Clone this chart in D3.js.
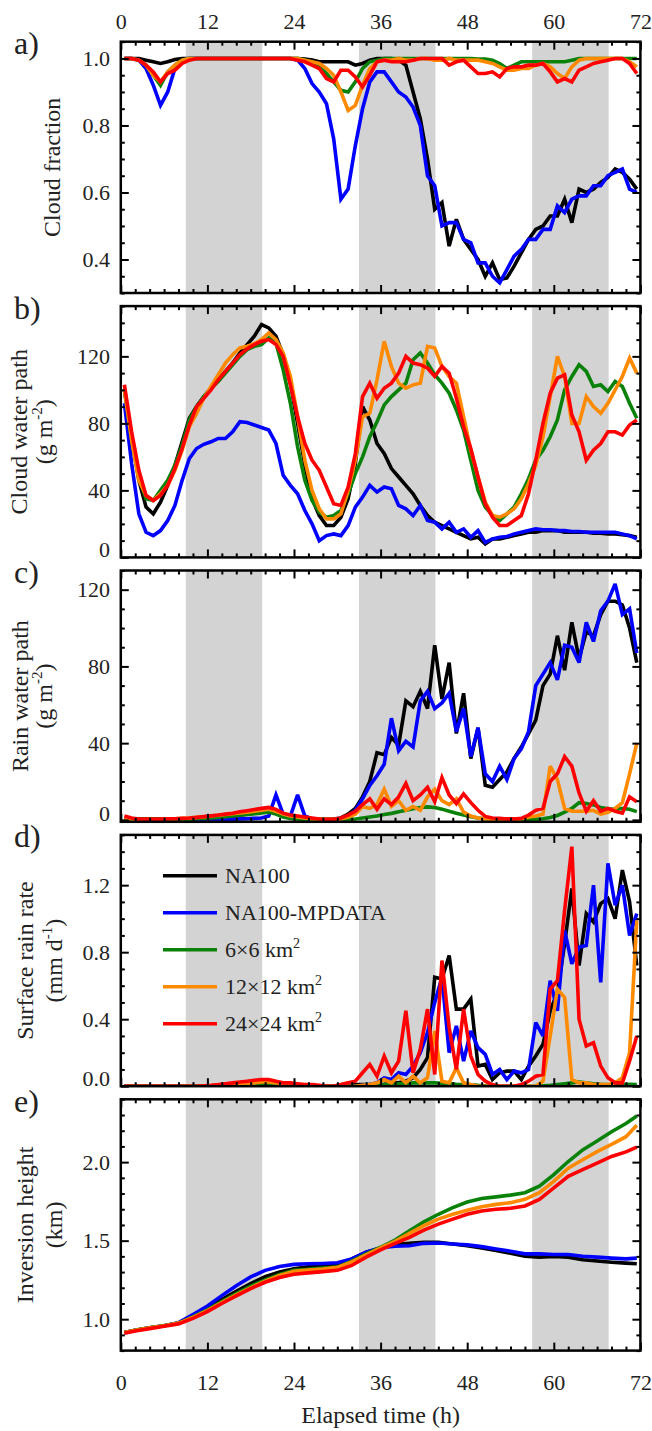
<!DOCTYPE html>
<meta charset="utf-8">
<script src="https://d3js.org/d3.v7.min.js"></script>
<style>
  body { margin: 0; background: #fff; }
  svg text, svg tspan { font-family: "Liberation Serif", "Times New Roman", serif; }
</style>
<svg id="chart" width="652" height="1431"></svg>
<script>
// sample times (h): hourly means plotted at mid-hour
const hours = [0.5,1.5,2.5,3.5,4.5,5.5,6.5,7.5,8.5,9.5,10.5,11.5,12.5,13.5,14.5,15.5,16.5,17.5,18.5,19.5,
  20.5,21.5,22.5,23.5,24.5,25.5,26.5,27.5,28.5,29.5,30.5,31.5,32.5,33.5,34.5,35.5,36.5,37.5,38.5,39.5,
  40.5,41.5,42.5,43.5,44.5,45.5,46.5,47.5,48.5,49.5,50.5,51.5,52.5,53.5,54.5,55.5,56.5,57.5,58.5,59.5,
  60.5,61.5,62.5,63.5,64.5,65.5,66.5,67.5,68.5,69.5,70.5,71.5];
// inversion height read every 2 h
const hoursE = [0.5,2,4,6,8,10,12,14,16,18,20,22,24,26,28,30,32,34,36,38,40,42,44,46,48,50,52,54,56,58,60,62,64,66,68,70,71.5];

const nightBands = [[9, 19.6], [33, 43.6], [57, 67.6]];
const xTicks = [0, 12, 24, 36, 48, 60, 72];
const seriesNames = ["NA100", "NA100-MPDATA", "6×6 km", "12×12 km", "24×24 km"];
const seriesSup = ["", "", "2", "2", "2"];
const seriesColors = ["#000000", "#0000ff", "#0a820a", "#ff8a00", "#ff0000"];

// a) cloud fraction
const cfBlack = [1.0,1.0,1.0,0.995,0.99,0.985,0.99,0.997,1.0,1.0,
  1,1,1,1,1,1,1,1,1,1,
  1,1,1,1,1,0.998,0.995,0.99,0.99,0.99,
  0.99,0.99,0.98,0.985,0.995,1.0,1.0,1.0,0.995,0.98,
  0.9,0.82,0.7,0.55,0.57,0.44,0.52,0.46,0.43,0.40,
  0.35,0.39,0.34,0.345,0.38,0.42,0.46,0.49,0.5,0.53,
  0.53,0.58,0.51,0.61,0.60,0.61,0.63,0.645,0.67,0.66,
  0.64,0.61];
const cfBlue = [1.0,1.0,0.995,0.97,0.92,0.86,0.9,0.97,0.995,1.0,
  1,1,1,1,1,1,1,1,1,1,
  1,1,1,1,0.995,0.97,0.925,0.9,0.865,0.76,
  0.58,0.61,0.74,0.85,0.93,0.96,0.96,0.93,0.9,0.885,
  0.855,0.8,0.65,0.62,0.5,0.51,0.51,0.46,0.45,0.39,
  0.39,0.35,0.33,0.37,0.41,0.43,0.46,0.46,0.49,0.49,
  0.56,0.54,0.58,0.59,0.59,0.62,0.62,0.65,0.66,0.67,
  0.61,0.60];
const cfGreen = [1.0,1.0,0.995,0.98,0.95,0.92,0.96,0.98,0.995,1.0,
  1,1,1,1,1,1,1,1,1,1,
  1,1,1,1,1,0.995,0.99,0.975,0.955,0.93,
  0.905,0.9,0.93,0.97,0.99,0.995,1,1,1,1,
  1,1,1,1,1,1,1,1,1,0.998,
  0.998,0.995,0.985,0.97,0.98,0.99,0.99,0.99,0.99,0.99,
  0.99,0.99,0.995,1,1,1,1,1,1,1,
  1,1];
const cfOrange = [1.0,1.0,0.995,0.98,0.95,0.93,0.96,0.98,0.995,1.0,
  1,1,1,1,1,1,1,1,1,1,
  1,1,1,1,1,0.995,0.99,0.985,0.97,0.95,
  0.9,0.845,0.86,0.92,0.97,0.99,0.995,0.995,1,0.995,
  0.995,1,1,0.995,0.995,1,0.995,0.995,0.995,0.995,
  0.99,0.985,0.975,0.965,0.965,0.97,0.97,0.98,0.985,0.975,
  0.955,0.94,0.975,0.995,1,1,1,1,1,1,
  0.99,0.975];
const cfRed = [1.0,1.0,0.995,0.98,0.96,0.93,0.955,0.965,0.985,0.995,
  1,1,1,1,1,1,1,1,1,1,
  1,1,1,1,0.995,0.99,0.98,0.97,0.94,0.93,
  0.965,0.965,0.945,0.915,0.95,0.99,0.995,0.99,0.99,0.99,
  0.995,1,1,1,1,0.98,0.99,0.995,0.975,0.955,
  0.955,0.96,0.945,0.97,0.975,0.975,0.98,0.98,0.985,0.96,
  0.93,0.94,0.93,0.965,0.975,0.985,0.99,0.995,1,1,
  0.985,0.955];

// b) cloud water path (g m-2)
const cwpBlack = [100,72,46,30,26,33,43,55,69,83,
  90,96,101,106,111,116,122,127,132,139,
  137,132,121,104,80,55,35,25,19,19,
  24,35,56,90,82,68,62,53,48,43,
  38,31,25,21,19,17,15,13,11,12,
  8,11,11,12,13,14,15,15,16,16,
  16,15,15,15,15,14.5,14.5,14,14,13.5,
  13,12];
const cwpBlue = [92,56,26,15,13,16,22,31,46,59,
  65,67.5,69,71,71,75,81,80.5,79,77.5,
  76,68,49,43,38,28,20,10,13,14,
  13,19,30,36,43,39,42,41,31,29,
  25,31,22,21,17,21,15,17,12,16,
  9,11,12,12.5,14,15,16,17,16.5,16.5,
  16,16,15.5,15.5,15,15,15,15,15,14,
  13,11];
const cwpGreen = [100,70,48,35,34,40,46,55,67,82,
  90,96,101,105,110,115,120,124,126,127,
  131,128,112,92,66,46,34,27,24,25,
  28,38,50,60,72,81,91,96,100,104,
  118,122,116,109,104,98,88,76,58,40,
  30,25,22,26,30,38,47,58,64,72,
  82,100,108,115,111,102,103,99,105,102,
  92,83];
const cwpOrange = [100,70,46,37,34,38,43,52,64,78,
  86,95,102,109,116,121,125,126,127.5,130,
  134,130,122,108,84,58,40,29,23,23,
  26,40,58,84,86,106,129,114,104,101,
  103,104,126,125,114,108,104,84,64,48,
  33,25,24,26,29,35,44,55,72,96,
  120,108,80,80,96,90,86,92,100,108,
  119,110];
const cwpRed = [103,75,52,37,34,37,43,53,65,79,
  90,95,100,106,111,116,121,124.5,127,129,
  130,127,120,103,84,68,58,52,42,32,
  31,42,62,96,104,95,101,104,110,120,
  116,115,113,108,114,110,95,78,65,48,
  32,24,19,19,22,25,38,58,80,98,
  107,109,85,75,58,64,68,75,75,73,
  79,82];

// c) rain water path (g m-2)
const rwpBlack = [0.5,0.5,0.5,0.5,0.5,0.5,0.5,0.5,0.5,0.5,
  0.5,0.8,1,1.2,1.5,2,2.5,3,3.5,4,
  5,4,2.5,1.5,1,0.8,0.5,0.3,0.3,0.5,
  1,3,6,12,20,35,34,43,39,62,
  59,67,58,91,63,82,45,66,32,48,
  18,17,21,25,32,38,45,52,70,76,
  96,78,103,84,98,96,107,114,114,112,
  100,82];
const rwpBlue = [0,0,0,0,0,0,0,0,0,0,
  0,0,0,0.2,0.3,0.4,0.5,0.6,0.8,1,
  2,13,3,2,13,2,0.5,0.3,0.2,0.2,
  0.5,2,5,11,18,23,29,53,36,41,
  38,62,67,58,61,66,46,58,33,48,
  24,20,28,21,32,37,46,70,76,82,
  73,91,90,82,103,93,109,114,123,107,
  110,87];
const rwpGreen = [0,0,0,0,0,0,0,0,0.2,0.4,
  0.6,0.8,1,1.3,1.6,2,2.4,2.8,3.2,3.6,
  4,3,1.5,0.8,0.4,0.2,0.2,0.2,0.2,0.2,
  0.2,0.2,0.5,1,1.5,2,2.8,3.4,4.2,5,
  5.8,6.5,6.8,6.5,5.6,4.5,3.5,2.5,1.6,1,
  0.6,0.3,0.3,0.3,0.3,0.3,0.3,0.3,0.6,1.2,
  2.3,4,6,9,8.5,7.8,6.5,5.8,5.5,6,
  5.5,4.3];
const rwpOrange = [1,0.5,0.3,0.3,0.3,0.3,0.5,0.6,0.8,1,
  1.3,1.6,2,2.4,2.8,3.2,3.6,4,4.5,5,
  5.5,4.5,3,2,1.5,1,0.5,0.3,0.3,0.3,
  0.5,1.5,3,7,6,8,16,7,10,5,
  7,5,12,16,10,8,11,4,2,1,
  0.5,0.3,0.3,0.3,0.3,0.5,1.5,2,3,28,
  21,6,4.5,4.5,4.5,5,3,4,6,9,
  24,40];
const rwpRed = [2,1,0.5,0.3,0.3,0.3,0.5,0.6,0.8,1,
  1.3,1.7,2.1,2.5,3,3.5,4.2,4.8,5.4,6,
  6.5,5.5,3.5,2.5,2,1.5,1,0.5,0.3,0.3,
  1,2.5,4.5,8,11,5.5,11,8,12,19,
  10,13,17,9.5,22,13,8.5,13.5,9,5,
  1.8,1,0.8,0.5,0.5,0.8,2.5,5,6,20,
  24,33,28,14,4.5,10,4.5,6,4.5,3.5,
  12,9.5];

// d) surface rain rate (mm d-1)
const srrBlack = [0,0,0,0,0,0,0,0,0,0,
  0,0,0,0.005,0.01,0.015,0.02,0.02,0.025,0.03,
  0.03,0.02,0.01,0.01,0.005,0,0,0,0,0,
  0,0.005,0.01,0.01,0.01,0.01,0.01,0.02,0.02,0.03,
  0.05,0.1,0.17,0.65,0.64,0.78,0.46,0.46,0.52,0.12,
  0.13,0.04,0.08,0.09,0.09,0.04,0.12,0.18,0.25,0.45,
  0.56,0.85,1.18,0.72,1.03,0.98,1.09,1.12,1.0,1.29,
  1.1,0.72];
const srrBlue = [0,0,0,0,0,0,0,0,0,0,
  0,0,0,0.005,0.005,0.005,0.01,0.01,0.01,0.01,
  0.01,0.005,0.005,0,0,0,0,0,0,0,
  0,0,0,0.005,0.01,0.02,0.05,0.04,0.08,0.07,
  0.12,0.2,0.32,0.5,0.65,0.2,0.36,0.15,0.33,0.23,
  0.19,0.07,0.1,0.04,0.09,0.08,0.1,0.38,0.3,0.63,
  0.45,0.93,0.73,0.83,0.84,1.2,0.62,1.33,1.08,1.2,
  0.9,1.03];
const srrGreen = [0,0,0,0,0,0,0,0,0,0,
  0,0,0,0.003,0.005,0.008,0.01,0.012,0.015,0.015,
  0.015,0.01,0.005,0.003,0,0,0,0,0,0,
  0,0,0,0.003,0.005,0.008,0.01,0.012,0.015,0.015,
  0.02,0.02,0.02,0.02,0.018,0.015,0.012,0.01,0.008,0.005,
  0.003,0,0,0,0,0,0,0,0.003,0.005,
  0.01,0.015,0.02,0.025,0.02,0.015,0.012,0.01,0.01,0.01,
  0.012,0.01];
const srrOrange = [0,0,0,0,0,0,0,0,0,0,
  0,0,0,0.005,0.01,0.012,0.015,0.018,0.02,0.025,
  0.025,0.02,0.012,0.008,0.005,0,0,0,0,0,
  0,0,0,0.005,0.01,0.02,0.04,0.02,0.06,0.02,
  0.06,0.02,0.05,0.33,0.03,0.02,0.11,0.02,0.01,0,
  0,0,0,0,0,0,0,0,0.03,0.3,
  0.58,0.53,0.04,0.02,0.02,0.01,0.01,0.01,0.02,0.05,
  0.2,0.99];
const srrRed = [0,0,0,0,0,0,0,0,0,0,
  0,0.003,0.006,0.01,0.015,0.02,0.025,0.03,0.035,0.04,
  0.04,0.03,0.02,0.02,0.015,0.01,0.01,0.005,0,0,
  0.01,0.02,0.03,0.08,0.13,0.06,0.18,0.08,0.15,0.45,
  0.08,0.22,0.46,0.07,0.75,0.35,0.1,0.46,0.18,0.07,
  0.03,0.01,0,0,0,0.01,0.03,0.06,0.07,0.58,
  0.63,1.05,1.43,0.4,0.24,0.26,0.12,0.05,0.02,0.02,
  0.15,0.3];

// e) inversion height (km), at hoursE
const invBlack = [0.915,0.93,0.945,0.958,0.975,1.02,1.07,1.125,1.178,1.227,1.27,1.3,1.321,1.333,1.34,1.349,1.384,1.426,1.454,1.475,1.483,1.489,1.489,1.479,1.468,1.454,1.437,1.42,1.401,1.395,1.40,1.395,1.378,1.37,1.363,1.357,1.353];
const invBlue = [0.915,0.93,0.945,0.958,0.978,1.03,1.084,1.15,1.213,1.269,1.311,1.336,1.349,1.353,1.355,1.359,1.384,1.426,1.455,1.464,1.468,1.483,1.485,1.479,1.473,1.462,1.447,1.433,1.416,1.416,1.412,1.412,1.401,1.395,1.389,1.384,1.389];
const invGreen = [0.915,0.93,0.945,0.958,0.975,1.015,1.059,1.112,1.163,1.21,1.25,1.285,1.311,1.318,1.325,1.332,1.37,1.416,1.458,1.504,1.563,1.62,1.668,1.71,1.746,1.769,1.779,1.79,1.805,1.847,1.92,2.004,2.078,2.134,2.193,2.246,2.294];
const invOrange = [0.915,0.93,0.945,0.958,0.975,1.012,1.055,1.105,1.155,1.2,1.242,1.278,1.305,1.313,1.32,1.33,1.365,1.41,1.454,1.496,1.546,1.595,1.637,1.668,1.693,1.716,1.731,1.742,1.763,1.805,1.878,1.962,2.015,2.067,2.113,2.162,2.235];
const invRed = [0.91,0.925,0.94,0.955,0.97,1.005,1.048,1.1,1.148,1.195,1.235,1.265,1.286,1.295,1.303,1.311,1.342,1.395,1.441,1.483,1.521,1.567,1.605,1.637,1.668,1.689,1.70,1.706,1.721,1.763,1.836,1.91,1.952,1.994,2.036,2.065,2.095];

const TXT = "#222";

const svg = d3.select("#chart");
const left = 120.8, pw = 519.6;
const top0 = 41.7, step = 264.4, ph = 251.3;

const x = d3.scaleLinear().domain([0, 72]).range([0, pw]);

const panels = [
  { letter: "a)", title: [[["Cloud fraction", false]]], titleX: [60],
    domain: [0.3, 1.05], major: [0.4, 0.6, 0.8, 1.0], fmt: d3.format(".1f"), minor: 0.05,
    t: hours, data: [cfBlack, cfBlue, cfGreen, cfOrange, cfRed] },
  { letter: "b)", title: [[["Cloud water path", false]], [["(g m", false], ["-2", true], [")", false]]], titleX: [27, 52],
    domain: [0, 150], major: [0, 40, 80, 120], fmt: d3.format("d"), minor: 10,
    t: hours, data: [cwpBlack, cwpBlue, cwpGreen, cwpOrange, cwpRed] },
  { letter: "c)", title: [[["Rain water path", false]], [["(g m", false], ["-2", true], [")", false]]], titleX: [28, 52],
    domain: [-1, 130], major: [0, 40, 80, 120], fmt: d3.format("d"), minor: 10,
    t: hours, data: [rwpBlack, rwpBlue, rwpGreen, rwpOrange, rwpRed] },
  { letter: "d)", title: [[["Surface rain rate", false]], [["(mm d", false], ["-1", true], [")", false]]], titleX: [33, 62],
    domain: [0, 1.5], major: [0, 0.4, 0.8, 1.2], fmt: d3.format(".1f"), minor: 0.1,
    t: hours, data: [srrBlack, srrBlue, srrGreen, srrOrange, srrRed] },
  { letter: "e)", title: [[["Inversion height", false]], [["(km)", false]]], titleX: [33, 62],
    domain: [0.8, 2.4], major: [1.0, 1.5, 2.0], fmt: d3.format(".1f"), minor: 0.1,
    t: hoursE, data: [invBlack, invBlue, invGreen, invOrange, invRed] }
];

function styleAxis(a) {
  a.attr("font-family", null).attr("font-size", null);
  a.select(".domain").remove();
  a.selectAll("line").attr("stroke", "#000").attr("stroke-width", 2);
  a.selectAll("text").attr("font-size", 22).attr("fill", TXT);
}

function addAxis(g, axis, tx, ty) {
  const a = g.append("g").attr("transform", `translate(${tx},${ty})`).call(axis);
  styleAxis(a);
  return a;
}

function addText(parent, segs, size, supSize) {
  segs.forEach(([s, sup], i) => {
    const prevSup = i > 0 && segs[i - 1][1];
    parent.append("tspan")
      .attr("font-size", sup ? supSize : size)
      .attr("dy", sup ? -size * 0.42 : (prevSup ? size * 0.42 : 0))
      .text(s);
  });
}

panels.forEach((p, i) => {
  const top = top0 + i * step;
  const g = svg.append("g").attr("transform", `translate(${left},${top})`);
  const y = d3.scaleLinear().domain(p.domain).range([ph, 0]);

  g.append("clipPath").attr("id", "clip" + i)
    .append("rect").attr("width", pw).attr("height", ph);

  g.selectAll("rect.night").data(nightBands).join("rect")
    .attr("class", "night")
    .attr("x", d => x(d[0])).attr("width", d => x(d[1]) - x(d[0]))
    .attr("y", 0).attr("height", ph)
    .attr("fill", "#d3d3d3");

  const line = d3.line().x((d, j) => x(p.t[j])).y(d => y(d));
  g.append("g").attr("clip-path", `url(#clip${i})`)
    .selectAll("path").data(p.data).join("path")
    .attr("d", line)
    .attr("fill", "none")
    .attr("stroke", (d, k) => seriesColors[k])
    .attr("stroke-width", 3.6)
    .attr("stroke-linejoin", "miter")
    .attr("stroke-miterlimit", 3);

  // x ticks, top and bottom, pointing inward
  const xMinor = d3.range(0, 73, 2).filter(d => d % 12 !== 0);
  const topAx = d3.axisTop(x).tickValues(xTicks).tickSize(-8).tickPadding(12.7)
    .tickFormat(i === 0 ? d3.format("d") : "");
  addAxis(g, topAx, 0, 0);
  addAxis(g, d3.axisTop(x).tickValues(xMinor).tickSize(-4).tickFormat(""), 0, 0);
  const botAx = d3.axisBottom(x).tickValues(xTicks).tickSize(-8).tickPadding(23.7)
    .tickFormat(i === panels.length - 1 ? d3.format("d") : "");
  addAxis(g, botAx, 0, ph);
  addAxis(g, d3.axisBottom(x).tickValues(xMinor).tickSize(-4).tickFormat(""), 0, ph);

  // y ticks, left and right
  const yMinor = d3.range(Math.ceil(p.domain[0] / p.minor - 1e-9) * p.minor, p.domain[1] + 1e-9, p.minor)
    .filter(v => !p.major.some(m => Math.abs(m - v) < 1e-6));
  const la = addAxis(g, d3.axisLeft(y).tickValues(p.major).tickSize(-8).tickPadding(10.8).tickFormat(p.fmt), 0, 0);
  la.selectAll("text").attr("y", d => Math.min(0, ph - 8 - y(d)));
  addAxis(g, d3.axisLeft(y).tickValues(yMinor).tickSize(-4).tickFormat(""), 0, 0);
  addAxis(g, d3.axisRight(y).tickValues(p.major).tickSize(-8).tickFormat(""), pw, 0);
  addAxis(g, d3.axisRight(y).tickValues(yMinor).tickSize(-4).tickFormat(""), pw, 0);

  g.append("rect").attr("width", pw).attr("height", ph)
    .attr("fill", "none").attr("stroke", "#000").attr("stroke-width", 2.5);

  // panel letter
  svg.append("text").attr("x", 14).attr("y", top + 12.5)
    .attr("font-size", 32).attr("fill", TXT)
    .text(p.letter);

  // y title (rotated)
  const cy = top + ph / 2;
  p.title.forEach((segs, k) => {
    const t = svg.append("text")
      .attr("transform", `translate(${p.titleX[k]},${cy}) rotate(-90)`)
      .attr("text-anchor", "middle")
      .attr("fill", TXT);
    addText(t, segs, 24, 15);
  });
});

// x title
svg.append("text").attr("x", left + pw / 2).attr("y", 1423)
  .attr("text-anchor", "middle").attr("font-size", 24).attr("fill", TXT)
  .text("Elapsed time (h)");

// legend in panel d
const leg = svg.append("g").attr("transform", "translate(163,875.7)");
seriesNames.forEach((name, k) => {
  const row = leg.append("g").attr("transform", `translate(0,${k * 37})`);
  row.append("line").attr("x1", 0).attr("x2", 54).attr("y1", 0).attr("y2", 0)
    .attr("stroke", seriesColors[k]).attr("stroke-width", 3.6);
  const t = row.append("text").attr("x", 62).attr("y", 7.5)
    .attr("fill", TXT);
  const segs = [[name, false]];
  if (seriesSup[k]) segs.push([seriesSup[k], true]);
  addText(t, segs, 22, 14);
});
</script>
